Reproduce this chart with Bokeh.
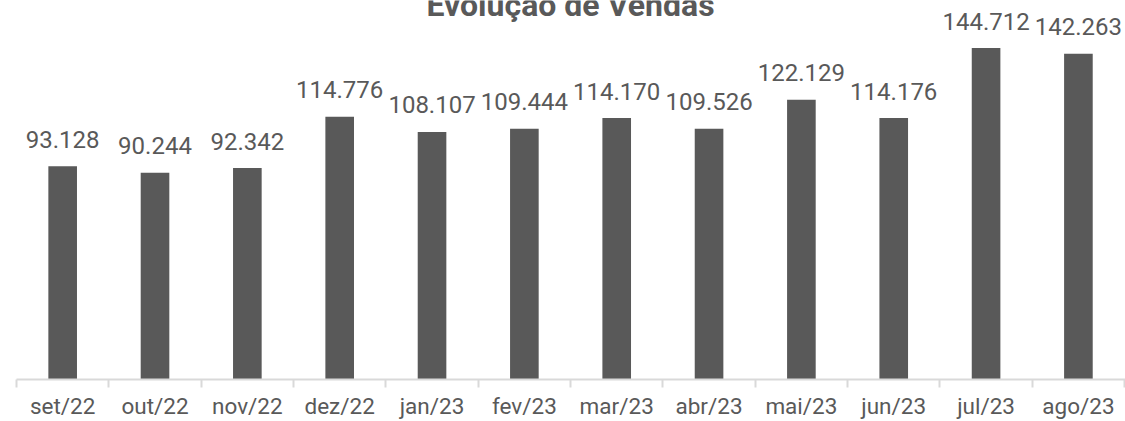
from bokeh.plotting import figure
from bokeh.models import ColumnDataSource, FixedTicker, Range1d
from bokeh.core.properties import value
from bokeh.embed import file_html
from bokeh.resources import INLINE

months = ["set/22", "out/22", "nov/22", "dez/22", "jan/23", "fev/23",
          "mar/23", "abr/23", "mai/23", "jun/23", "jul/23", "ago/23"]
sales = [93128, 90244, 92342, 114776, 108107, 109444,
         114170, 109526, 122129, 114176, 144712, 142263]
title_text = "Evolução de Vendas"

GRAY = "#595959"
xs = [i + 0.5 for i in range(len(months))]
labels = [f"{v:,}".replace(",", ".") for v in sales]
src = ColumnDataSource(dict(x=xs, y=sales, lab=labels))

FH = 379
YMAX = 165500
p = figure(frame_width=1109, frame_height=FH, output_backend="svg",
           toolbar_location=None,
           x_range=Range1d(0, 12.01), y_range=Range1d(0, YMAX),
           min_border_left=16, min_border_right=0, min_border_top=0,
           min_border_bottom=20)
p.outline_line_color = None
p.grid.visible = False
p.yaxis.visible = False
p.background_fill_color = "white"
p.border_fill_color = "white"

p.vbar(x="x", top="y", width=0.31, bottom=0, source=src,
       fill_color=GRAY, line_color=None)
p.text(x="x", y="y", text="lab", source=src, text_align="center",
       text_baseline="alphabetic", y_offset=-27,
       text_font=value("Roboto"), text_font_size="24px", text_color=GRAY)

p.text(x=[len(months) / 2], y=[YMAX], text=[title_text],
       text_align="center", text_baseline="alphabetic", y_offset=4,
       text_font=value("Roboto"), text_font_size="32px",
       text_font_style="bold", text_color=GRAY)

ax = p.xaxis[0]
ax.ticker = FixedTicker(ticks=xs, minor_ticks=list(range(len(months) + 1)))
ax.major_label_overrides = {x: m for x, m in zip(xs, months)}
ax.major_tick_out = 0
ax.major_tick_in = 0
ax.minor_tick_out = 8
ax.minor_tick_in = 0
ax.minor_tick_line_color = "#d9d9d9"
ax.minor_tick_line_width = 2
ax.axis_line_color = "#d9d9d9"
ax.axis_line_width = 2
ax.major_label_text_font = "Roboto"
ax.major_label_text_font_size = "22.5px"
ax.major_label_text_color = GRAY
ax.major_label_standoff = 5

open("out.html", "w").write(file_html(p, INLINE))
